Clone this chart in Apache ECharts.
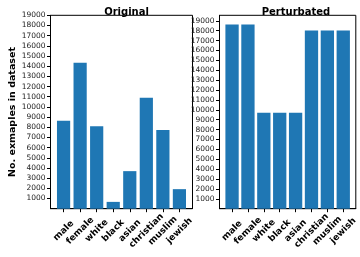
<!DOCTYPE html>
<html>
<head>
<meta charset="utf-8">
<script src="https://cdn.jsdelivr.net/npm/echarts@6/dist/echarts.min.js"></script>
<style>
  html, body { margin: 0; padding: 0; background: #fff; }
  #main { width: 360px; height: 257px; }
</style>
</head>
<body>
<div id="main"></div>
<script>
// data
let categories = ['male', 'female', 'white', 'black', 'asian', 'christian', 'muslim', 'jewish'];
let originalCounts = [8630, 14340, 8110, 670, 3690, 10900, 7720, 1920];
let perturbedCounts = [18630, 18630, 9710, 9710, 9710, 18020, 18020, 18020];
let yTicks = [1000, 2000, 3000, 4000, 5000, 6000, 7000, 8000, 9000, 10000,
  11000, 12000, 13000, 14000, 15000, 16000, 17000, 18000, 19000];
let panelTitles = ['Original', 'Perturbated'];

let blue = '#1f77b4';
let font = 'DejaVu Sans';
let xPos = categories.map(function (c, i) { return i; });

function pairs(vals) {
  return vals.map(function (v, i) { return [i, v]; });
}

function xAxis(gridIndex) {
  return {
    type: 'value', gridIndex: gridIndex, min: -0.79, max: 7.79,
    splitLine: { show: false },
    axisLine: { show: true, onZero: false, lineStyle: { color: '#000', width: 1 } },
    axisTick: { show: true, inside: false, length: 3.5, customValues: xPos, lineStyle: { color: '#000' } },
    axisLabel: {
      customValues: xPos, rotate: 45, align: 'center', verticalAlign: 'middle',
      margin: 22, fontFamily: font, fontSize: 9, fontWeight: 'bold', color: '#000',
      formatter: function (v) { return categories[Math.round(v)]; }
    }
  };
}

function yAxis(gridIndex, max, name) {
  return {
    type: 'value', gridIndex: gridIndex, min: 0, max: max,
    name: name, nameLocation: 'middle', nameGap: 31,
    nameTextStyle: { fontFamily: font, fontSize: 9.5, fontWeight: 'bold', color: '#000' },
    splitLine: { show: false },
    axisLine: { show: true, onZero: false, lineStyle: { color: '#000', width: 1 } },
    axisTick: { show: true, inside: false, length: 3.5, customValues: yTicks, lineStyle: { color: '#000' } },
    axisLabel: {
      customValues: yTicks, margin: 5, fontFamily: font, fontSize: 7.5, color: '#222',
      formatter: function (v) { return String(v); }
    }
  };
}

let myChart = echarts.init(document.getElementById('main'), null, { renderer: 'canvas' });
let option = {
  animation: false,
  backgroundColor: '#fff',
  title: [
    { text: panelTitles[0], left: 121.5, top: 2, textAlign: 'center',
      textStyle: { fontFamily: font, fontSize: 10, fontWeight: 'bold', color: '#000' } },
    { text: panelTitles[1], left: 291, top: 2, textAlign: 'center',
      textStyle: { fontFamily: font, fontSize: 10, fontWeight: 'bold', color: '#000' } }
  ],
  grid: [
    { left: 50.5, top: 15.3, width: 142, height: 193.4, show: true,
      borderColor: '#000', borderWidth: 1, backgroundColor: 'transparent' },
    { left: 219.5, top: 15.3, width: 143, height: 193.4, show: true,
      borderColor: '#000', borderWidth: 1, backgroundColor: 'transparent' }
  ],
  xAxis: [xAxis(0), xAxis(1)],
  yAxis: [yAxis(0, 19000, 'No. exmaples in dataset'), yAxis(1, 19560, '')],
  series: [
    { type: 'bar', xAxisIndex: 0, yAxisIndex: 0, barWidth: 13.2,
      itemStyle: { color: blue }, data: pairs(originalCounts) },
    { type: 'bar', xAxisIndex: 1, yAxisIndex: 1, barWidth: 13.3,
      itemStyle: { color: blue }, data: pairs(perturbedCounts) }
  ]
};
myChart.setOption(option, true);
</script>
</body>
</html>
